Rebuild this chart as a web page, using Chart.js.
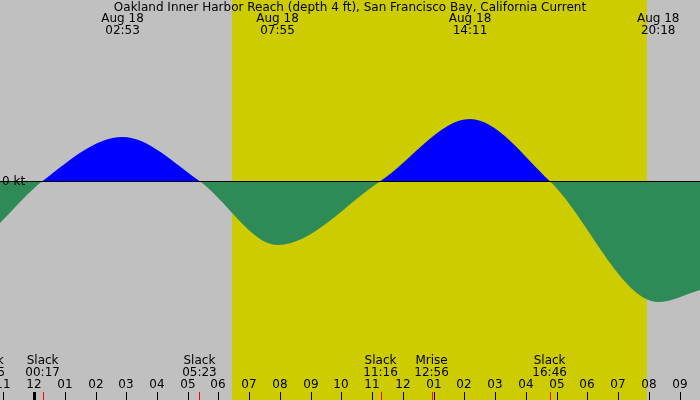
<!DOCTYPE html>
<html>
<head>
<meta charset="utf-8">
<script src="https://cdn.jsdelivr.net/npm/chart.js@4/dist/chart.umd.min.js"></script>
<style>
  html, body { margin: 0; padding: 0; background: #c0c0c0; }
  canvas { display: block; }
</style>
</head>
<body>
<canvas id="tide" width="700" height="400"></canvas>
<script>
// hours since midnight Aug 18, current in kt (flood +, ebb -)
const hours = [-1.11, 0.28, 2.88, 5.38, 7.92, 11.27, 14.18, 16.77, 20.3, 21.66];
const speeds = [-0.42, 0, 0.44, 0, -0.64, 0, 0.62, 0, -1.21, -1.09];

const extremeHours = [2.88, 7.92, 14.18, 20.3];
const extremeTimes = ['02:53', '07:55', '14:11', '20:18'];

const eventHours = [-1.5, 0.28, 5.38, 11.27, 12.93, 16.77];
const eventNames = ['Slack', 'Slack', 'Slack', 'Slack', 'Mrise', 'Slack'];
const eventTimes = ['22:35', '00:17', '05:23', '11:16', '12:56', '16:46'];

const tickHours = [-1, 0, 1, 2, 3, 4, 5, 6, 7, 8, 9, 10, 11, 12, 13, 14, 15, 16, 17, 18, 19, 20, 21];
const tickLabels = ['11', '12', '01', '02', '03', '04', '05', '06', '07', '08', '09', '10',
  '11', '12', '01', '02', '03', '04', '05', '06', '07', '08', '09'];

const sunrise = 6.44;
const sunset = 19.93;

const font = '12px "DejaVu Sans", sans-serif';

const decor = {
  id: 'decor',
  beforeDatasetsDraw(chart) {
    const { ctx, scales: { x }, chartArea } = chart;
    ctx.save();
    ctx.fillStyle = '#cccc00';
    const x1 = x.getPixelForValue(sunrise);
    const x2 = x.getPixelForValue(sunset);
    ctx.fillRect(x1, chartArea.top, x2 - x1, chartArea.bottom - chartArea.top);
    ctx.restore();
  },
  afterDatasetsDraw(chart) {
    const { ctx, scales: { x, y } } = chart;
    ctx.save();
    const y0 = Math.round(y.getPixelForValue(0)) + 0.5;
    ctx.strokeStyle = '#000';
    ctx.lineWidth = 1;
    ctx.beginPath();
    ctx.moveTo(0, y0);
    ctx.lineTo(700, y0);
    ctx.stroke();

    ctx.font = font;
    ctx.fillStyle = '#000';
    ctx.textBaseline = 'middle';
    ctx.textAlign = 'left';
    ctx.fillText('0 kt', 2, y0);

    ctx.textAlign = 'center';
    ctx.fillText('Oakland Inner Harbor Reach (depth 4 ft), San Francisco Bay, California Current', 350, 8);
    extremeHours.forEach((h, i) => {
      const px = x.getPixelForValue(h);
      ctx.fillText('Aug 18', px, 19);
      ctx.fillText(extremeTimes[i], px, 31);
    });

    eventHours.forEach((h, i) => {
      const px = x.getPixelForValue(h);
      ctx.fillStyle = '#000';
      ctx.fillText(eventNames[i], px, 361);
      ctx.fillText(eventTimes[i], px, 373);
      if (eventNames[i] !== 'Slack' || h > 0) {
        ctx.fillStyle = '#ff0000';
        ctx.fillRect(Math.round(px), 392, 1, 8);
      }
    });

    ctx.fillStyle = '#000';
    tickHours.forEach((h, i) => {
      const px = Math.round(x.getPixelForValue(h));
      ctx.fillText(tickLabels[i], px, 385);
      if (h === 0) ctx.fillRect(px - 1, 392, 3, 8);
      else ctx.fillRect(px, 392, 1, 8);
    });
    ctx.restore();
  }
};

new Chart(document.getElementById('tide'), {
  type: 'line',
  data: {
    datasets: [{
      data: hours.map((h, i) => ({ x: h, y: speeds[i] })),
      borderWidth: 0,
      pointRadius: 0,
      cubicInterpolationMode: 'monotone',
      fill: { target: 'origin', above: '#0000ff', below: '#2e8b57' }
    }]
  },
  options: {
    responsive: false,
    devicePixelRatio: 1,
    animation: false,
    layout: { padding: 0 },
    plugins: { legend: { display: false }, tooltip: { enabled: false } },
    scales: {
      x: { type: 'linear', min: -1.106, max: 21.66, display: false },
      y: { min: -2.19, max: 1.81, display: false }
    }
  },
  plugins: [decor]
});
</script>
</body>
</html>
